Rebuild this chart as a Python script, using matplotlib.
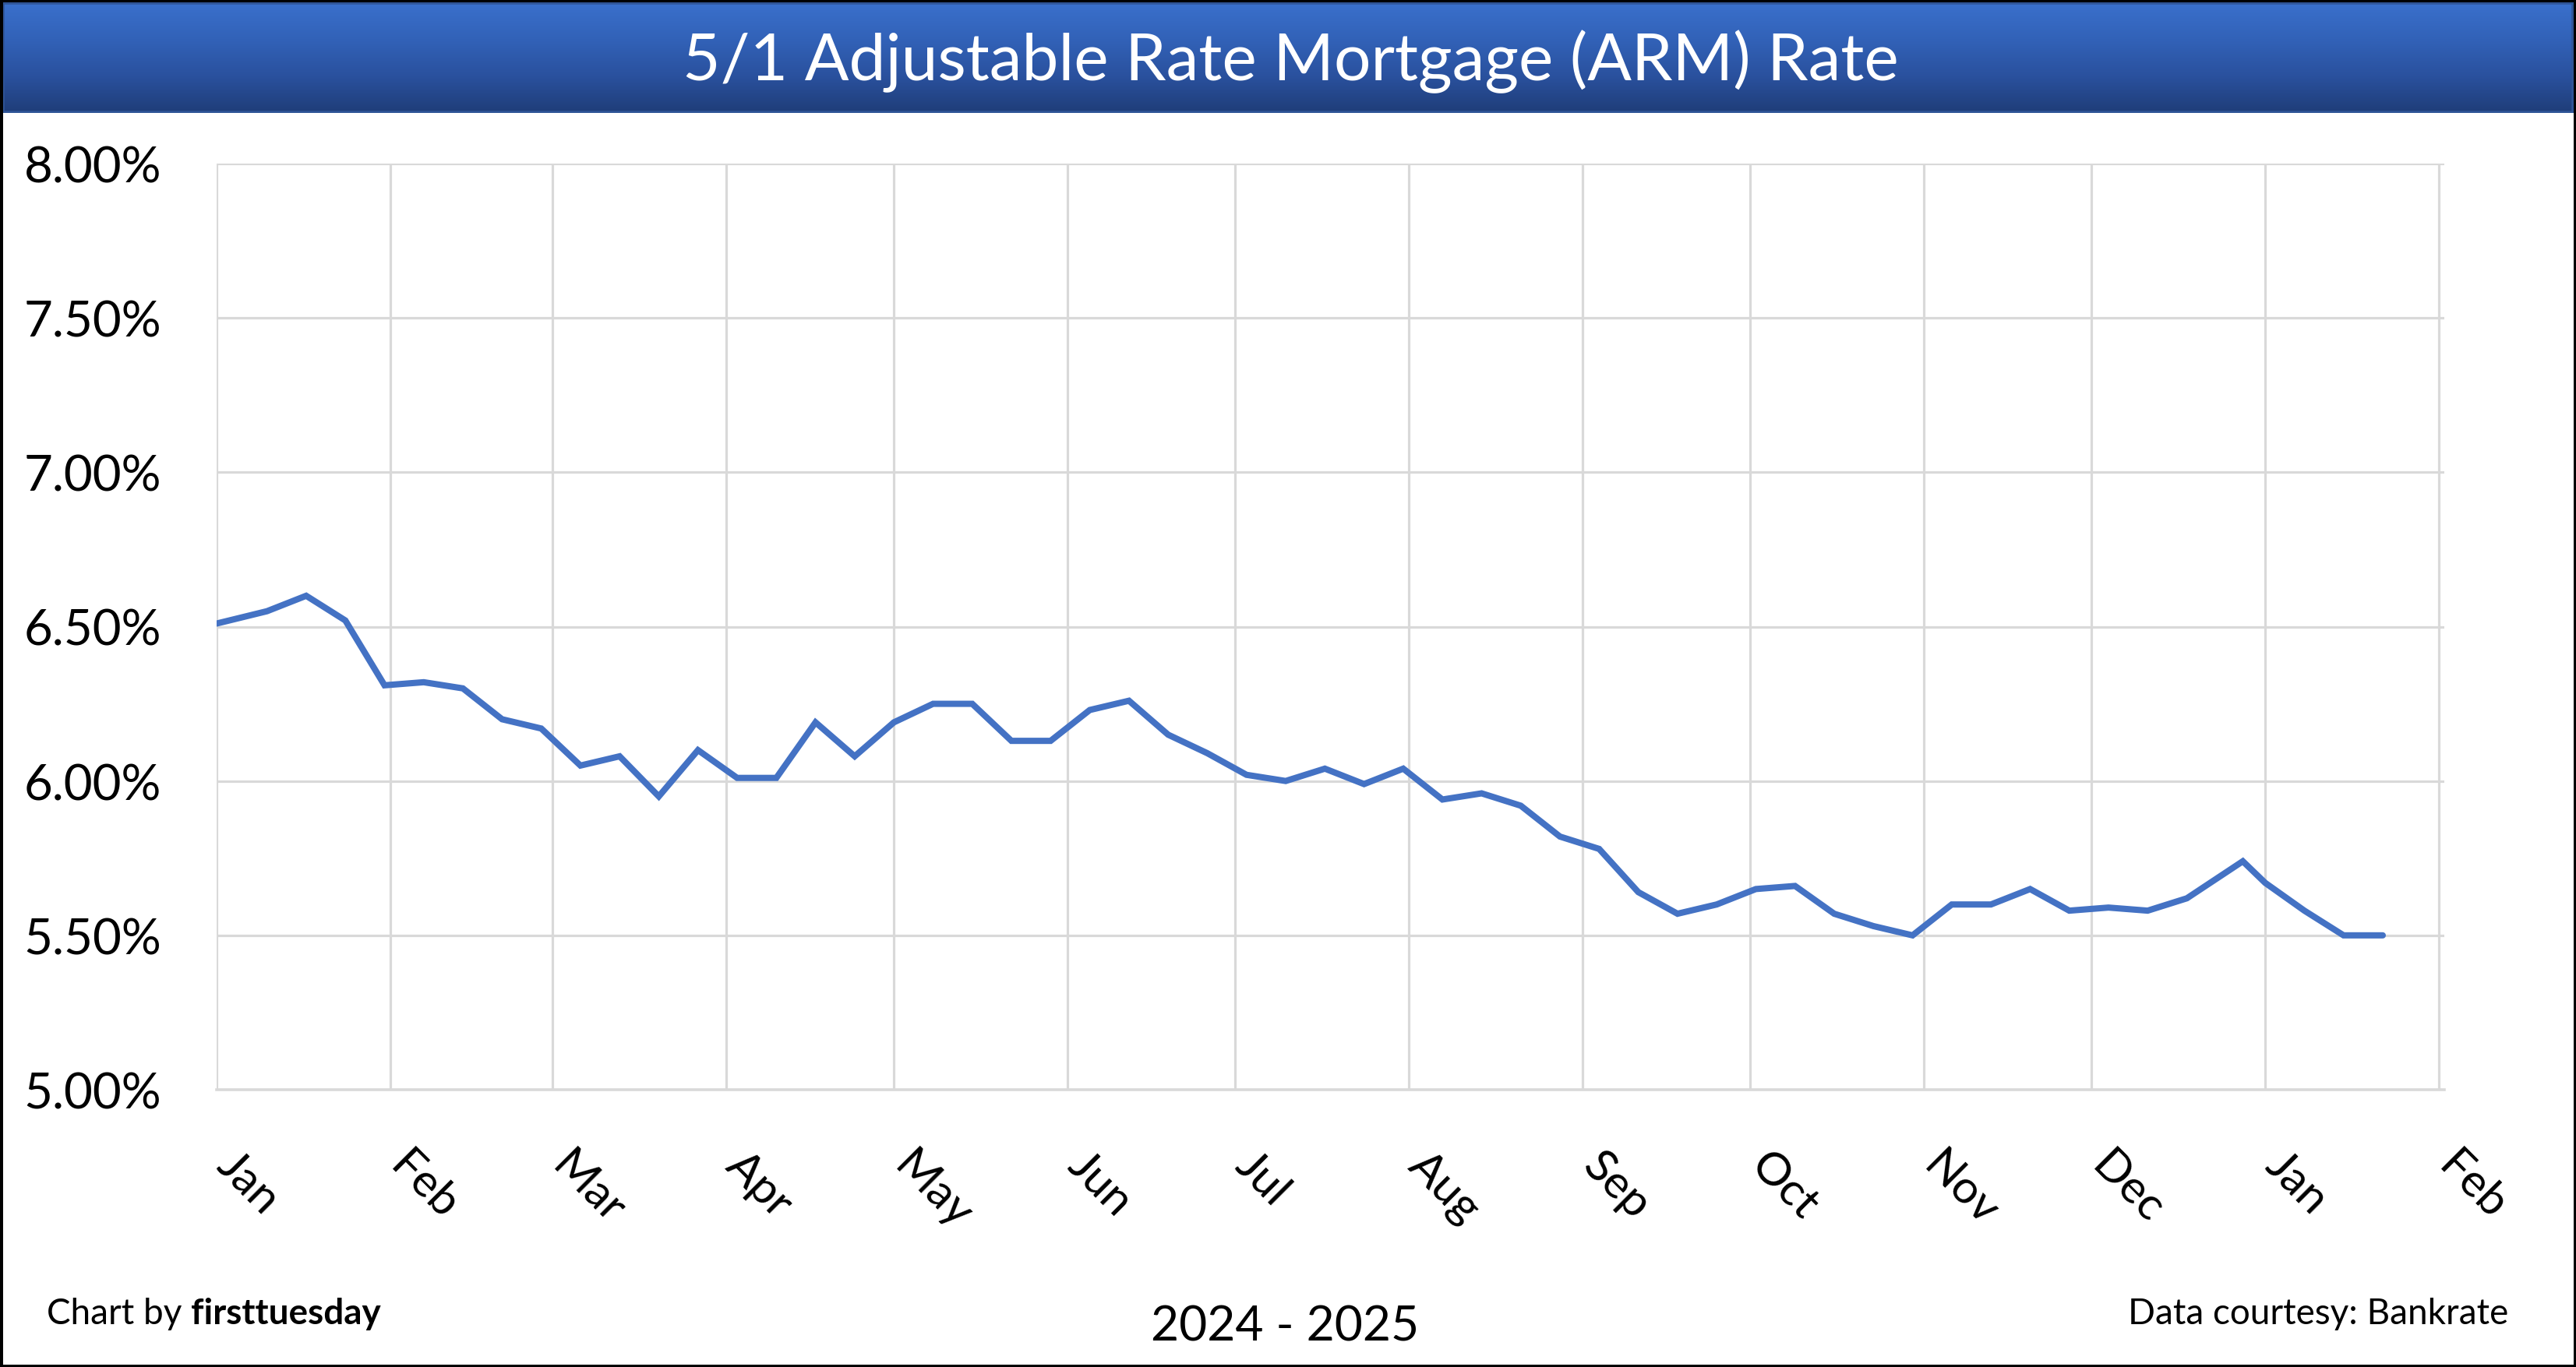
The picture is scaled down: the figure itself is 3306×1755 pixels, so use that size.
import matplotlib
matplotlib.use('Agg')
import matplotlib.pyplot as plt
import matplotlib.dates as mdates
import matplotlib.transforms as mtransforms
from matplotlib.ticker import FixedLocator, FixedFormatter, FuncFormatter
from matplotlib.patches import Rectangle
from matplotlib.colors import LinearSegmentedColormap
import numpy as np
from datetime import datetime

# ---------------- data ----------------
title = "5/1 Adjustable Rate Mortgage (ARM) Rate"
dates = ['2024-01-01', '2024-01-10', '2024-01-17', '2024-01-24', '2024-01-31',
         '2024-02-07', '2024-02-14', '2024-02-21', '2024-02-28', '2024-03-06',
         '2024-03-13', '2024-03-20', '2024-03-27', '2024-04-03', '2024-04-10',
         '2024-04-17', '2024-04-24', '2024-05-01', '2024-05-08', '2024-05-15',
         '2024-05-22', '2024-05-29', '2024-06-05', '2024-06-12', '2024-06-19',
         '2024-06-26', '2024-07-03', '2024-07-10', '2024-07-17', '2024-07-24',
         '2024-07-31', '2024-08-07', '2024-08-14', '2024-08-21', '2024-08-28',
         '2024-09-04', '2024-09-11', '2024-09-18', '2024-09-25', '2024-10-02',
         '2024-10-09', '2024-10-16', '2024-10-23', '2024-10-30', '2024-11-06',
         '2024-11-13', '2024-11-20', '2024-11-27', '2024-12-04', '2024-12-11',
         '2024-12-18', '2024-12-28', '2025-01-01', '2025-01-08', '2025-01-15',
         '2025-01-22']
rates = [6.51, 6.55, 6.60, 6.52, 6.31, 6.32, 6.30, 6.20, 6.17, 6.05,
         6.08, 5.95, 6.10, 6.01, 6.01, 6.19, 6.08, 6.19, 6.25, 6.25,
         6.13, 6.13, 6.23, 6.26, 6.15, 6.09, 6.02, 6.00, 6.04, 5.99,
         6.04, 5.94, 5.96, 5.92, 5.82, 5.78, 5.64, 5.57, 5.60, 5.65,
         5.66, 5.57, 5.53, 5.50, 5.60, 5.60, 5.65, 5.58, 5.59, 5.58,
         5.62, 5.74, 5.67, 5.58, 5.50, 5.50]
month_ticks = ['2024-01-01', '2024-02-01', '2024-03-01', '2024-04-01', '2024-05-01',
               '2024-06-01', '2024-07-01', '2024-08-01', '2024-09-01', '2024-10-01',
               '2024-11-01', '2024-12-01', '2025-01-01', '2025-02-01']
month_labels = ['Jan', 'Feb', 'Mar', 'Apr', 'May', 'Jun', 'Jul', 'Aug', 'Sep',
                'Oct', 'Nov', 'Dec', 'Jan', 'Feb']
y_ticks = [5.00, 5.50, 6.00, 6.50, 7.00, 7.50, 8.00]
x_range = ['2024-01-01', '2025-02-02']
footer_left = "Chart by "
footer_brand = "firsttuesday"
footer_center = "2024 - 2025"
footer_right = "Data courtesy: Bankrate"

# ---------------- setup ----------------
W, H = 3306, 1756
DPI = 100
FONT = ['Lato', 'DejaVu Sans']
plt.rcParams['font.family'] = FONT

fig = plt.figure(figsize=(W / DPI, H / DPI), dpi=DPI)
fig.patch.set_facecolor('white')


def fx(px):
    return px / W


def fy(py):
    return 1 - py / H


# banner with gradient
bt, bb = 4, 146
bax = fig.add_axes([fx(3), fy(bb), fx(W - 6), (bb - bt) / H])
cmap = LinearSegmentedColormap.from_list('band', ['#3A70CC', '#3262B8', '#2A519E', '#1F3D78'])
grad = np.linspace(0, 1, 256).reshape(-1, 1)
bax.imshow(grad, aspect='auto', cmap=cmap, extent=[0, 1, 0, 1], origin='upper')
bax.set_xlim(0, 1)
bax.set_ylim(0, 1)
bax.set_axis_off()
bax.add_patch(Rectangle((0, 0), 1, 1, transform=bax.transAxes, fill=False,
                        ec='#2F5597', lw=4, clip_on=True))

# main plot area
L, R, T, B = 278, 3137, 211, 1400
ax = fig.add_axes([fx(L), fy(B), fx(R - L), (B - T) / H])
xd = [datetime.strptime(d, '%Y-%m-%d') for d in dates]
ax.plot(xd, rates, color='#4472C4', lw=5.8, solid_capstyle='round',
        solid_joinstyle='miter', zorder=3)
ax.set_xlim(datetime.strptime(x_range[0], '%Y-%m-%d'), datetime.strptime(x_range[1], '%Y-%m-%d'))
ax.set_ylim(y_ticks[0], y_ticks[-1])
ax.yaxis.set_major_locator(FixedLocator(y_ticks))
ax.yaxis.set_major_formatter(FuncFormatter(lambda v, p: f"{v:.2f}%"))
mt = [mdates.date2num(datetime.strptime(d, '%Y-%m-%d')) for d in month_ticks]
ax.xaxis.set_major_locator(FixedLocator(mt))
ax.xaxis.set_major_formatter(FixedFormatter(month_labels))
ax.grid(True, color='#D9D9D9', lw=2.3, zorder=0)
for s in ['top', 'right', 'left']:
    ax.spines[s].set_visible(False)
ax.spines['bottom'].set_color('#D9D9D9')
ax.spines['bottom'].set_linewidth(2.6)
ax.tick_params(axis='both', length=0)
ax.tick_params(axis='y', pad=71 * 72 / DPI, labelsize=45, labelcolor='black')

fig.canvas.draw()
r = fig.canvas.get_renderer()
# fit y tick label size to reference width of "8.00%"
lab8 = [l for l in ax.get_yticklabels() if l.get_text() == '8.00%'][0]
w8 = lab8.get_window_extent(r).width
ysize = 45 * 177 / w8
ax.tick_params(axis='y', labelsize=ysize)
xsize = ysize * 0.93
ax.tick_params(axis='x', pad=70 * 72 / DPI, labelsize=xsize, labelcolor='black',
               labelrotation=-45)
off = mtransforms.ScaledTranslation(-10 / DPI, 0, fig.dpi_scale_trans)
for lab in ax.get_xticklabels():
    lab.set_ha('left')
    lab.set_va('top')
    lab.set_rotation_mode('default')
    lab.set_transform(lab.get_transform() + off)

# title
tt = fig.text(fx(1656), fy(103), title, color='white', ha='center', va='baseline',
              fontsize=60)
fig.canvas.draw()
tw = tt.get_window_extent(r).width
tt.set_fontsize(60 * 1562 / tw)

# footers
t1 = fig.text(fx(60), fy(1700), footer_left.strip(), ha='left', va='baseline', fontsize=30)
fig.canvas.draw()
t2 = fig.text(0, fy(1700), footer_brand, ha='left', va='baseline', fontsize=30,
              fontweight='bold')
fig.canvas.draw()
w1 = t1.get_window_extent(r).width
w2 = t2.get_window_extent(r).width
sp = 0.25 * 30 * DPI / 72
scale = 428 / (w1 + w2 + sp)
t1.set_fontsize(30 * scale)
t2.set_fontsize(30 * scale)
fig.canvas.draw()
w1 = t1.get_window_extent(r).width
t2.set_x(fx(60 + w1 + sp * scale))

tc = fig.text(fx(1649), fy(1722), footer_center, ha='center', va='baseline', fontsize=45)
fig.canvas.draw()
tc.set_fontsize(45 * 345 / tc.get_window_extent(r).width)

trt = fig.text(fx(3219), fy(1700), footer_right, ha='right', va='baseline', fontsize=30)
fig.canvas.draw()
trt.set_fontsize(30 * 487 / trt.get_window_extent(r).width)

# outer border
fig.patches.append(Rectangle((0, 0), 1, 1, transform=fig.transFigure, fill=False,
                             ec='black', lw=7 * 72 / DPI, zorder=10))

fig.savefig('out.png', dpi=DPI, facecolor='white')
